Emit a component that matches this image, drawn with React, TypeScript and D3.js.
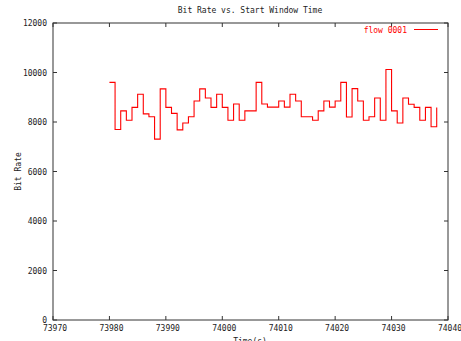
import React from "react";
import * as d3 from "d3";

const startTime = 73980;
const bitRates = [
  9600, 7700, 8450, 8070, 8590, 9120, 8330, 8210, 7310, 9340,
  8590, 8350, 7680, 7960, 8210, 8850, 9340, 8970, 8590, 9120,
  8590, 8070, 8730, 8070, 8450, 8450, 9600, 8730, 8600, 8600,
  8850, 8600, 9120, 8850, 8210, 8210, 8070, 8450, 8850, 8600,
  8850, 9600, 8200, 9350, 8850, 8070, 8210, 8970, 8070, 10120,
  8450, 7960, 8970, 8720, 8590, 8070, 8590, 7810, 8590,
];
const times = bitRates.map((_, i) => startTime + i);
const xTicks = [73970, 73980, 73990, 74000, 74010, 74020, 74030, 74040];
const yTicks = [0, 2000, 4000, 6000, 8000, 10000, 12000];
const title = "Bit Rate vs. Start Window Time";
const xLabel = "Time(s)";
const yLabel = "Bit Rate";
const seriesName = "flow 0001";

export default function App() {
  const W = 461, H = 341;
  const left = 53, right = 448, top = 23, bottom = 320;
  const x = d3.scaleLinear().domain([73970, 74040]).range([left, right]);
  const y = d3.scaleLinear().domain([0, 12000]).range([bottom, top]);
  const data = times.map((t, i) => [t, bitRates[i]] as [number, number]);
  const line = d3
    .line<[number, number]>()
    .x((d) => x(d[0]))
    .y((d) => y(d[1]))
    .curve(d3.curveStepAfter);
  const font = "'DejaVu Sans Mono', monospace";
  const axisColor = "#333";
  const textColor = "#222";
  return (
    <svg
      width={W}
      height={H}
      style={{ position: "absolute", left: 0, top: 0, background: "#fff" }}
      fontFamily={font}
      fontSize={8}
    >
      <rect x={0} y={0} width={W} height={H} fill="#fff" />
      <text x={250} y={13} textAnchor="middle" fill={textColor}>
        {title}
      </text>
      {/* ticks */}
      {xTicks.map((t) => (
        <g key={"x" + t}>
          <line x1={x(t)} x2={x(t)} y1={bottom} y2={bottom - 4} stroke={axisColor} />
          <line x1={x(t)} x2={x(t)} y1={top} y2={top + 4} stroke={axisColor} />
          <text x={x(t) + 2} y={331} textAnchor="middle" fill={textColor}>
            {t}
          </text>
        </g>
      ))}
      {yTicks.map((v) => (
        <g key={"y" + v}>
          <line x1={left} x2={left + 4} y1={y(v)} y2={y(v)} stroke={axisColor} />
          <line x1={right} x2={right - 4} y1={y(v)} y2={y(v)} stroke={axisColor} />
          <text x={47} y={y(v) + 3} textAnchor="end" fill={textColor}>
            {v}
          </text>
        </g>
      ))}
      <rect
        x={left}
        y={top}
        width={right - left}
        height={bottom - top}
        fill="none"
        stroke={axisColor}
        strokeWidth={1}
      />
      <text x={250} y={344} textAnchor="middle" fill={textColor}>
        {xLabel}
      </text>
      <text
        transform={`translate(21,${(top + bottom) / 2}) rotate(-90)`}
        textAnchor="middle"
        fill={textColor}
      >
        {yLabel}
      </text>
      <path d={line(data) || ""} fill="none" stroke="#ff0000" strokeWidth={1.1} />
      <text x={407} y={32.5} textAnchor="end" fill="#ff0000">
        {seriesName}
      </text>
      <line x1={414} x2={438} y1={29.5} y2={29.5} stroke="#ff0000" strokeWidth={1} />
    </svg>
  );
}
